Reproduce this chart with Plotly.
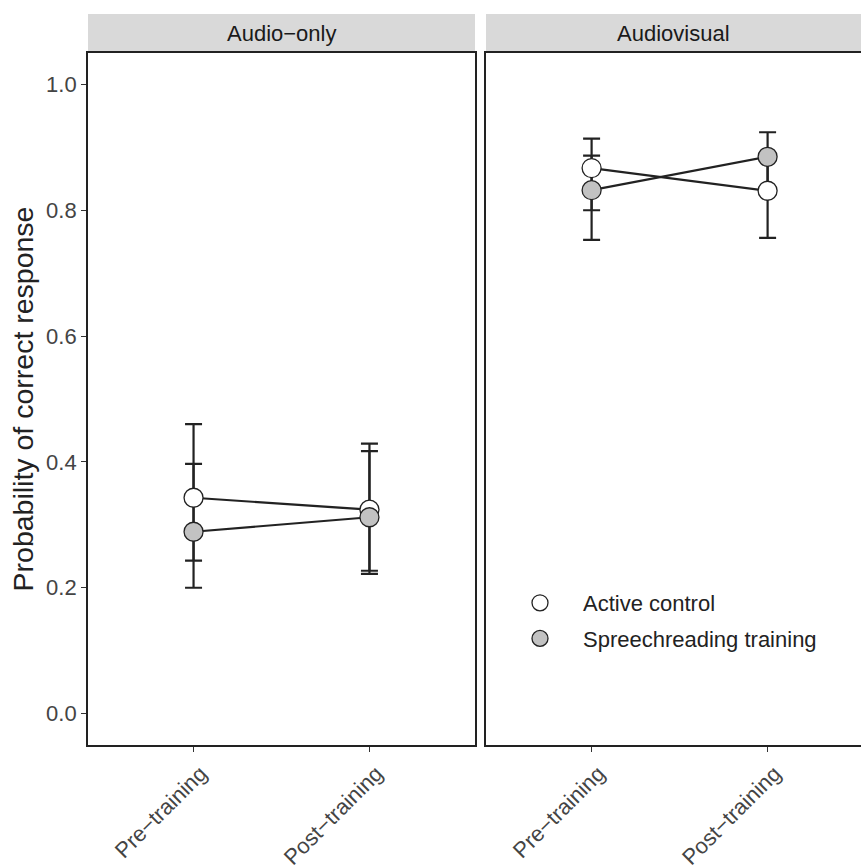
import plotly.graph_objects as go

# ---- data ----
conditions = ["Audio\u2212only", "Audiovisual"]
sessions = ["Pre\u2212training", "Post\u2212training"]
groups = ["Active control", "Spreechreading training"]

# mean probability per condition, [Pre, Post]
active_mean = {"Audio\u2212only": [0.343, 0.324], "Audiovisual": [0.867, 0.831]}
active_low = {"Audio\u2212only": [0.243, 0.227], "Audiovisual": [0.800, 0.756]}
active_high = {"Audio\u2212only": [0.460, 0.429], "Audiovisual": [0.914, 0.888]}

speech_mean = {"Audio\u2212only": [0.289, 0.312], "Audiovisual": [0.832, 0.885]}
speech_low = {"Audio\u2212only": [0.200, 0.222], "Audiovisual": [0.753, 0.826]}
speech_high = {"Audio\u2212only": [0.397, 0.417], "Audiovisual": [0.887, 0.924]}

y_ticks = [0.0, 0.2, 0.4, 0.6, 0.8, 1.0]

W, H = 861, 866
L, R, T, B = 88, 0, 53, 121
plot_w = W - L - R
plot_h = H - T - B

def px2x(p):
    return (p - L) / plot_w

dom1 = [0, px2x(475)]
dom2 = [px2x(486), 1.0]

ink = "#222222"
fills = {"Active control": "#FFFFFF", "Spreechreading training": "#C2C2C2"}
FONT = "Liberation Sans, Arial, sans-serif"

series = [
    ("Active control", active_mean, active_low, active_high),
    ("Spreechreading training", speech_mean, speech_low, speech_high),
]

fig = go.Figure()
xpos = [1, 2]

# error bars first (below everything)
for ci, cond in enumerate(conditions):
    xa = "x" if ci == 0 else "x2"
    ya = "y" if ci == 0 else "y2"
    for name, m, lo, hi in series:
        fig.add_trace(go.Scatter(
            x=xpos, y=m[cond], xaxis=xa, yaxis=ya, mode="markers",
            marker=dict(size=1, color="rgba(0,0,0,0)"),
            error_y=dict(type="data", symmetric=False,
                         array=[h - v for h, v in zip(hi[cond], m[cond])],
                         arrayminus=[v - l for l, v in zip(lo[cond], m[cond])],
                         color=ink, thickness=2.2, width=8.5),
            showlegend=False, hoverinfo="skip"))

# lines
for ci, cond in enumerate(conditions):
    xa = "x" if ci == 0 else "x2"
    ya = "y" if ci == 0 else "y2"
    for name, m, lo, hi in series:
        fig.add_trace(go.Scatter(
            x=xpos, y=m[cond], xaxis=xa, yaxis=ya, mode="lines",
            line=dict(color=ink, width=2.2), showlegend=False, hoverinfo="skip"))

# points
for ci, cond in enumerate(conditions):
    xa = "x" if ci == 0 else "x2"
    ya = "y" if ci == 0 else "y2"
    for name, m, lo, hi in series:
        fig.add_trace(go.Scatter(
            x=xpos, y=m[cond], xaxis=xa, yaxis=ya, mode="markers", name=name,
            legendgroup=name,
            marker=dict(size=19, color=fills[name], line=dict(color=ink, width=1.3)),
            showlegend=(ci == 1)))

tickfont = dict(family=FONT, size=22, color="#444444")
xcommon = dict(tickmode="array", tickvals=xpos, ticktext=sessions, tickangle=-45,
               ticks="outside", ticklen=5, tickcolor="#333", tickwidth=1,
               showline=True, linecolor=ink, linewidth=1.8, showgrid=False,
               zeroline=False, tickfont=tickfont, automargin=False,
               ticklabelshift=7)
ycommon = dict(range=[-0.05, 1.05], tickvals=y_ticks, showgrid=False, zeroline=False,
               showline=True, linecolor=ink, linewidth=1.8, automargin=False)

fig.update_layout(
    width=W, height=H, margin=dict(l=L, r=R, t=T, b=B),
    paper_bgcolor="white", plot_bgcolor="white",
    font=dict(family=FONT, color="#222"),
    xaxis=dict(domain=dom1, range=[0.4, 2.6], mirror=True, anchor="y", **xcommon),
    xaxis2=dict(domain=dom2, range=[0.4, 0.4 + (W - 486) / 176.0], mirror=True,
                anchor="y2", **xcommon),
    yaxis=dict(domain=[0, 1], anchor="x", mirror=True, ticks="outside", ticklen=5,
               tickcolor="#333", tickformat=".1f", tickfont=tickfont,
               title=dict(text="Probability of correct response",
                          font=dict(size=28.5, color="#222"), standoff=4),
               **ycommon),
    yaxis2=dict(domain=[0, 1], anchor="x2", showticklabels=False, ticks="", **ycommon),
    legend=dict(x=px2x(497), y=1 - (582 - T) / plot_h, xanchor="left", yanchor="top",
                bgcolor="rgba(0,0,0,0)", font=dict(size=22, color="#222"),
                tracegroupgap=4, itemwidth=76),
    showlegend=True,
)

# facet strips
strip_top = 1 + (T - 14) / plot_h
for dom, label in zip([dom1, dom2], conditions):
    fig.add_shape(type="rect", xref="paper", yref="paper", x0=dom[0], x1=dom[1],
                  y0=1.0, y1=strip_top, fillcolor="#D9D9D9", line=dict(width=0),
                  layer="below")
    fig.add_annotation(xref="paper", yref="paper", x=(dom[0] + dom[1]) / 2,
                       y=(1.0 + strip_top) / 2, text=label, showarrow=False,
                       font=dict(size=22, color="#1A1A1A"), xanchor="center",
                       yanchor="middle")

fig.write_html("out.html")
